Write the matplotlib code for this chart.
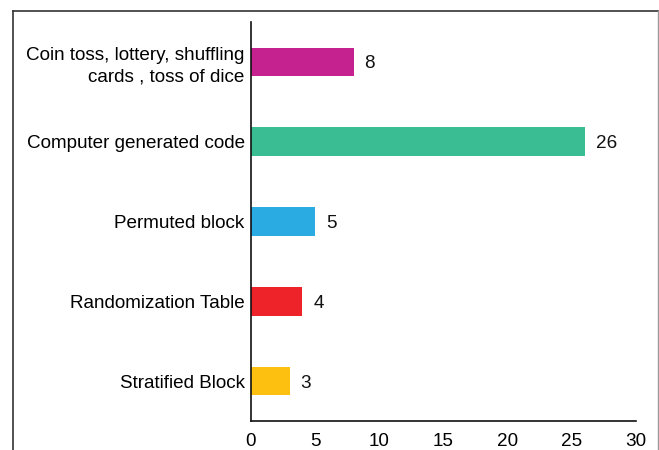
import matplotlib
matplotlib.use("Agg")
import matplotlib.pyplot as plt
from matplotlib.lines import Line2D

categories = ["Coin toss, lottery, shuffling\ncards , toss of dice",
              "Computer generated code",
              "Permuted block",
              "Randomization Table",
              "Stratified Block"]
values = [8, 26, 5, 4, 3]
colors = ["#C52290", "#3BBD94", "#2AACE3", "#EE2229", "#FDC010"]
xticks = [0, 5, 10, 15, 20, 25, 30]

plt.rcParams['font.family'] = ['Liberation Sans', 'DejaVu Sans']
FS = 13.6

fig = plt.figure(figsize=(6.59, 4.5), dpi=100)
ax = fig.add_axes([251/659, 1-421/450, (636-251)/659, (421-22)/450])

ypos = list(range(len(categories)))[::-1]
ax.barh(ypos, values, height=0.36, color=colors)
for y, v in zip(ypos, values):
    ax.text(v + 0.85, y, str(v), va='center_baseline', ha='left', fontsize=FS, color='#111111')

ax.set_yticks(ypos)
ax.set_yticklabels(categories, fontsize=FS, linespacing=1.35)
ax.set_xticks(xticks)
ax.set_xticklabels([str(t) for t in xticks], fontsize=FS)
ax.set_xlim(0, 30)
ax.set_ylim(-0.5, 4.5)
ax.tick_params(axis='y', length=0, pad=4.5)
ax.tick_params(axis='x', length=0, pad=9)
for s in ['top', 'right']:
    ax.spines[s].set_visible(False)
for s in ['left', 'bottom']:
    ax.spines[s].set_color('#111111')
    ax.spines[s].set_linewidth(1.2)

# figure border
fig.add_artist(Line2D([13/659, 13/659], [0, 1-11/450], transform=fig.transFigure, color='#333333', lw=1.2))
fig.add_artist(Line2D([13/659, 658/659], [1-11/450, 1-11/450], transform=fig.transFigure, color='#333333', lw=1.2))
fig.add_artist(Line2D([657.5/659, 657.5/659], [0, 1-11/450], transform=fig.transFigure, color='#999999', lw=1.0))

fig.savefig("out.png", dpi=100)
